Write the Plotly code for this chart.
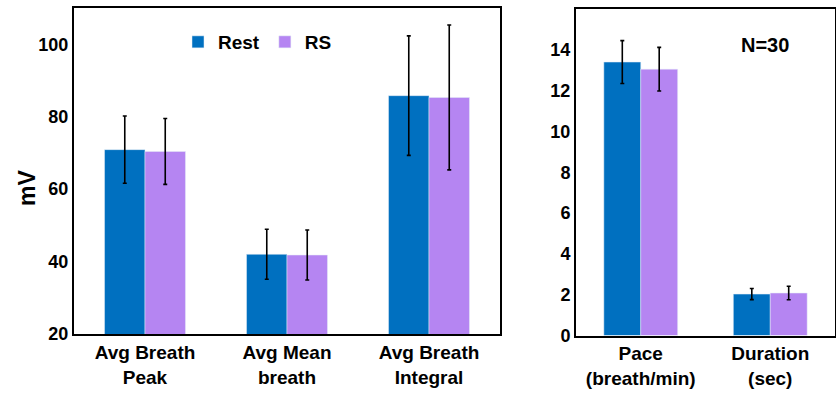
import plotly.graph_objects as go

left_cats = ["Avg Breath<br>Peak", "Avg Mean<br>breath", "Avg Breath<br>Integral"]
left_rest = [70.9, 42.0, 85.8]
left_rest_err = [9.3, 6.9, 16.5]
left_rs = [70.4, 41.8, 85.3]
left_rs_err = [9.1, 6.9, 20.0]

right_cats = ["Pace<br>(breath/min)", "Duration<br>(sec)"]
right_rest = [13.4, 2.03]
right_rest_err = [1.05, 0.27]
right_rs = [13.05, 2.08]
right_rs_err = [1.07, 0.33]

REST_C = "#0070C0"
RS_C = "#B585F2"
FONT = "Liberation Sans"
W, H = 836, 394

def eb(vals):
    return dict(type="data", array=vals, color="black", thickness=1.6, width=2)

fig = go.Figure()
fig.add_trace(go.Bar(x=left_cats, y=left_rest, name="Rest", marker_color=REST_C,
                     error_y=eb(left_rest_err), xaxis="x", yaxis="y"))
fig.add_trace(go.Bar(x=left_cats, y=left_rs, name="RS", marker_color=RS_C,
                     error_y=eb(left_rs_err), xaxis="x", yaxis="y"))
fig.add_trace(go.Bar(x=right_cats, y=right_rest, name="Rest", marker_color=REST_C,
                     error_y=eb(right_rest_err), xaxis="x2", yaxis="y2", showlegend=False))
fig.add_trace(go.Bar(x=right_cats, y=right_rs, name="RS", marker_color=RS_C,
                     error_y=eb(right_rs_err), xaxis="x2", yaxis="y2", showlegend=False))

ytickfont = dict(family=FONT, size=18, color="black", weight="bold")
xtickfont = dict(family=FONT, size=19, color="black", weight="bold")
axis_common = dict(showline=True, linecolor="black", linewidth=2, mirror=True,
                   showgrid=False, zeroline=False, ticks="", automargin=False)

fig.update_layout(
    width=W, height=H,
    margin=dict(l=0, r=0, t=0, b=0),
    paper_bgcolor="white", plot_bgcolor="white",
    barmode="group", bargap=0.43, bargroupgap=0,
    font=dict(family=FONT, color="black"),
    xaxis=dict(domain=[74 / W, 500 / W], anchor="y", tickfont=xtickfont, **axis_common),
    yaxis=dict(domain=[(H - 334) / H, (H - 8) / H], anchor="x", range=[20, 110],
               tickvals=[20, 40, 60, 80, 100], tickfont=ytickfont, **axis_common),
    xaxis2=dict(domain=[576 / W, 835 / W], anchor="y2", tickfont=xtickfont, **axis_common),
    yaxis2=dict(domain=[(H - 335.5) / H, (H - 9) / H], anchor="x2", range=[0, 16],
                tickvals=[0, 2, 4, 6, 8, 10, 12, 14], tickfont=ytickfont, **axis_common),
    legend=dict(orientation="h", x=178 / W, y=(H - 42) / H, xanchor="left", yanchor="middle",
                font=dict(family=FONT, size=19, color="black", weight="bold"),
                bgcolor="rgba(0,0,0,0)", itemwidth=30, tracegroupgap=0),
    annotations=[
        dict(text="<b>N=30</b>", x=765 / W, y=(H - 45) / H, xref="paper", yref="paper",
             xanchor="center", yanchor="middle",
             showarrow=False, font=dict(family=FONT, size=20, color="black")),
        dict(text="<b>mV</b>", x=27 / W, y=(H - 188) / H, xref="paper", yref="paper",
             xanchor="center", yanchor="middle",
             showarrow=False, textangle=-90, font=dict(family=FONT, size=23, color="black")),
    ],
)

fig.write_html("out.html")
